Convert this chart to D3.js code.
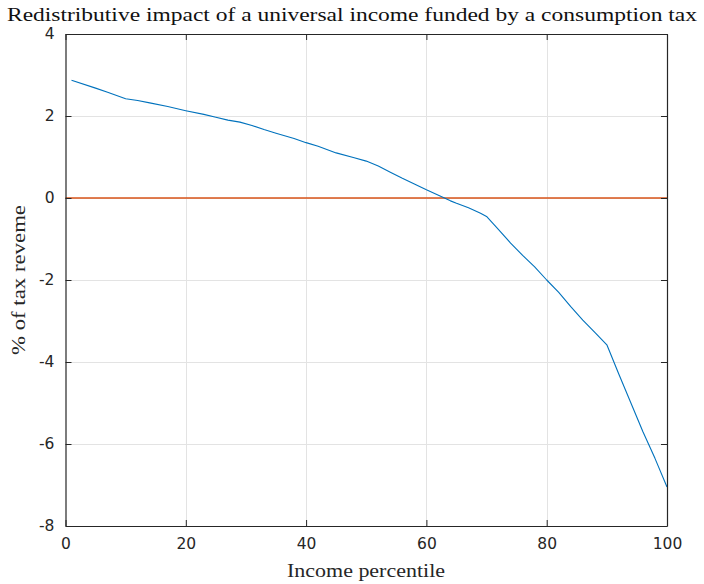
<!DOCTYPE html>
<html>
<head>
<meta charset="utf-8">
<script src="https://cdn.jsdelivr.net/npm/d3@7"></script>
<style>
  html, body { margin: 0; padding: 0; background: #fff; }
  svg { display: block; }
</style>
</head>
<body>
<svg id="chart" width="704" height="584"></svg>
<script>
// Net transfer by income percentile, % of tax revenue
const percentiles = [1, 5, 7, 10, 12, 14, 17, 20, 23, 25, 27, 29, 31, 33, 35, 38, 40, 42, 45, 48, 50,
  52, 54, 56, 58, 60, 62, 63, 64, 65, 67, 69, 70, 72, 74, 76, 78, 80, 82, 84, 86, 88, 90,
  92, 94, 96, 98, 100];
const impact = [2.87, 2.68, 2.58, 2.42, 2.38, 2.32, 2.23, 2.13, 2.04, 1.97, 1.90, 1.85, 1.77, 1.67, 1.58, 1.45, 1.35, 1.26, 1.10, 0.98, 0.90,
  0.78, 0.63, 0.48, 0.34, 0.20, 0.07, 0.00, -0.07, -0.13, -0.24, -0.37, -0.45, -0.77, -1.10, -1.40, -1.68, -2.00, -2.30, -2.65, -2.98, -3.28, -3.58,
  -4.30, -5.00, -5.70, -6.35, -7.05];
const zeroLine = [0, 0];
const zeroX = [0, 100];
const xTicks = [0, 20, 40, 60, 80, 100];
const yTicks = [-8, -6, -4, -2, 0, 2, 4];

const titleText = "Redistributive impact of a universal income funded by a consumption tax";
const xLabel = "Income percentile";
const yLabel = "% of tax reveme";

const svg = d3.select("#chart");
const plotLeft = 65.5, plotRight = 667, plotTop = 34, plotBottom = 526;

const x = d3.scaleLinear().domain([0, 100]).range([plotLeft, plotRight]);
const y = d3.scaleLinear().domain([-8, 4]).range([plotBottom, plotTop]);

const axisColor = "#262626";
const gridColor = "#e3e3e3";

// grid
const grid = svg.append("g");
grid.selectAll("line.gx").data(xTicks.slice(1, -1)).join("line")
  .attr("x1", d => Math.round(x(d)) + 0.5).attr("x2", d => Math.round(x(d)) + 0.5)
  .attr("y1", plotTop).attr("y2", plotBottom)
  .attr("stroke", gridColor).attr("stroke-width", 1);
grid.selectAll("line.gy").data(yTicks.slice(1, -1)).join("line")
  .attr("y1", d => Math.round(y(d)) + 0.5).attr("y2", d => Math.round(y(d)) + 0.5)
  .attr("x1", plotLeft).attr("x2", plotRight)
  .attr("stroke", gridColor).attr("stroke-width", 1);

// series
const line = d3.line().x(d => x(d[0])).y(d => y(d[1]));
svg.append("path")
  .datum(zeroX.map((v, i) => [v, zeroLine[i]]))
  .attr("d", line).attr("fill", "none")
  .attr("stroke", "#D95319").attr("stroke-width", 1.4);
svg.append("path")
  .datum(percentiles.map((p, i) => [p, impact[i]]))
  .attr("d", line).attr("fill", "none")
  .attr("stroke", "#0072BD").attr("stroke-width", 1.1)
  .attr("stroke-linejoin", "round");

// axes (box with inward ticks on all sides)
const tickLen = 6;
const font = "'DejaVu Sans', sans-serif";
const plain = d => String(d);
const xb = d3.axisBottom(x).tickValues(xTicks).tickSizeInner(-tickLen).tickSizeOuter(0).tickPadding(12).tickFormat(plain);
const yl = d3.axisLeft(y).tickValues(yTicks).tickSizeInner(-tickLen).tickSizeOuter(0).tickPadding(11).tickFormat(plain);
const xt = d3.axisTop(x).tickValues(xTicks).tickSizeInner(-tickLen).tickSizeOuter(0).tickFormat("");
const yr = d3.axisRight(y).tickValues(yTicks).tickSizeInner(-tickLen).tickSizeOuter(0).tickFormat("");

function style(g) {
  g.attr("font-size", null).attr("font-family", null);
  g.selectAll("path.domain").attr("stroke", axisColor).attr("stroke-width", 1.2);
  g.selectAll(".tick line").attr("stroke", axisColor).attr("stroke-width", 1);
  g.selectAll(".tick text").attr("fill", axisColor).style("font-family", font).style("font-size", "15.5px");
}
svg.append("g").attr("transform", `translate(0,${plotBottom})`).call(xb).call(style);
svg.append("g").attr("transform", `translate(${plotLeft},0)`).call(yl).call(style);
svg.append("g").attr("transform", `translate(0,${plotTop})`).call(xt).call(style);
svg.append("g").attr("transform", `translate(${plotRight},0)`).call(yr).call(style);

// labels
const serif = "'Liberation Serif', serif";
svg.append("text").text(titleText)
  .attr("x", 352).attr("y", 21).attr("text-anchor", "middle")
  .attr("textLength", 690).attr("lengthAdjust", "spacingAndGlyphs")
  .style("font-family", serif).style("font-size", "19px").attr("fill", "#111");
svg.append("text").text(xLabel)
  .attr("x", 366).attr("y", 577).attr("text-anchor", "middle")
  .attr("textLength", 158).attr("lengthAdjust", "spacingAndGlyphs")
  .style("font-family", serif).style("font-size", "18px").attr("fill", "#262626");
svg.append("text").text(yLabel)
  .attr("transform", "translate(25,280) rotate(-90)").attr("text-anchor", "middle")
  .attr("textLength", 150).attr("lengthAdjust", "spacingAndGlyphs")
  .style("font-family", serif).style("font-size", "18px").attr("fill", "#262626");
</script>
</body>
</html>
